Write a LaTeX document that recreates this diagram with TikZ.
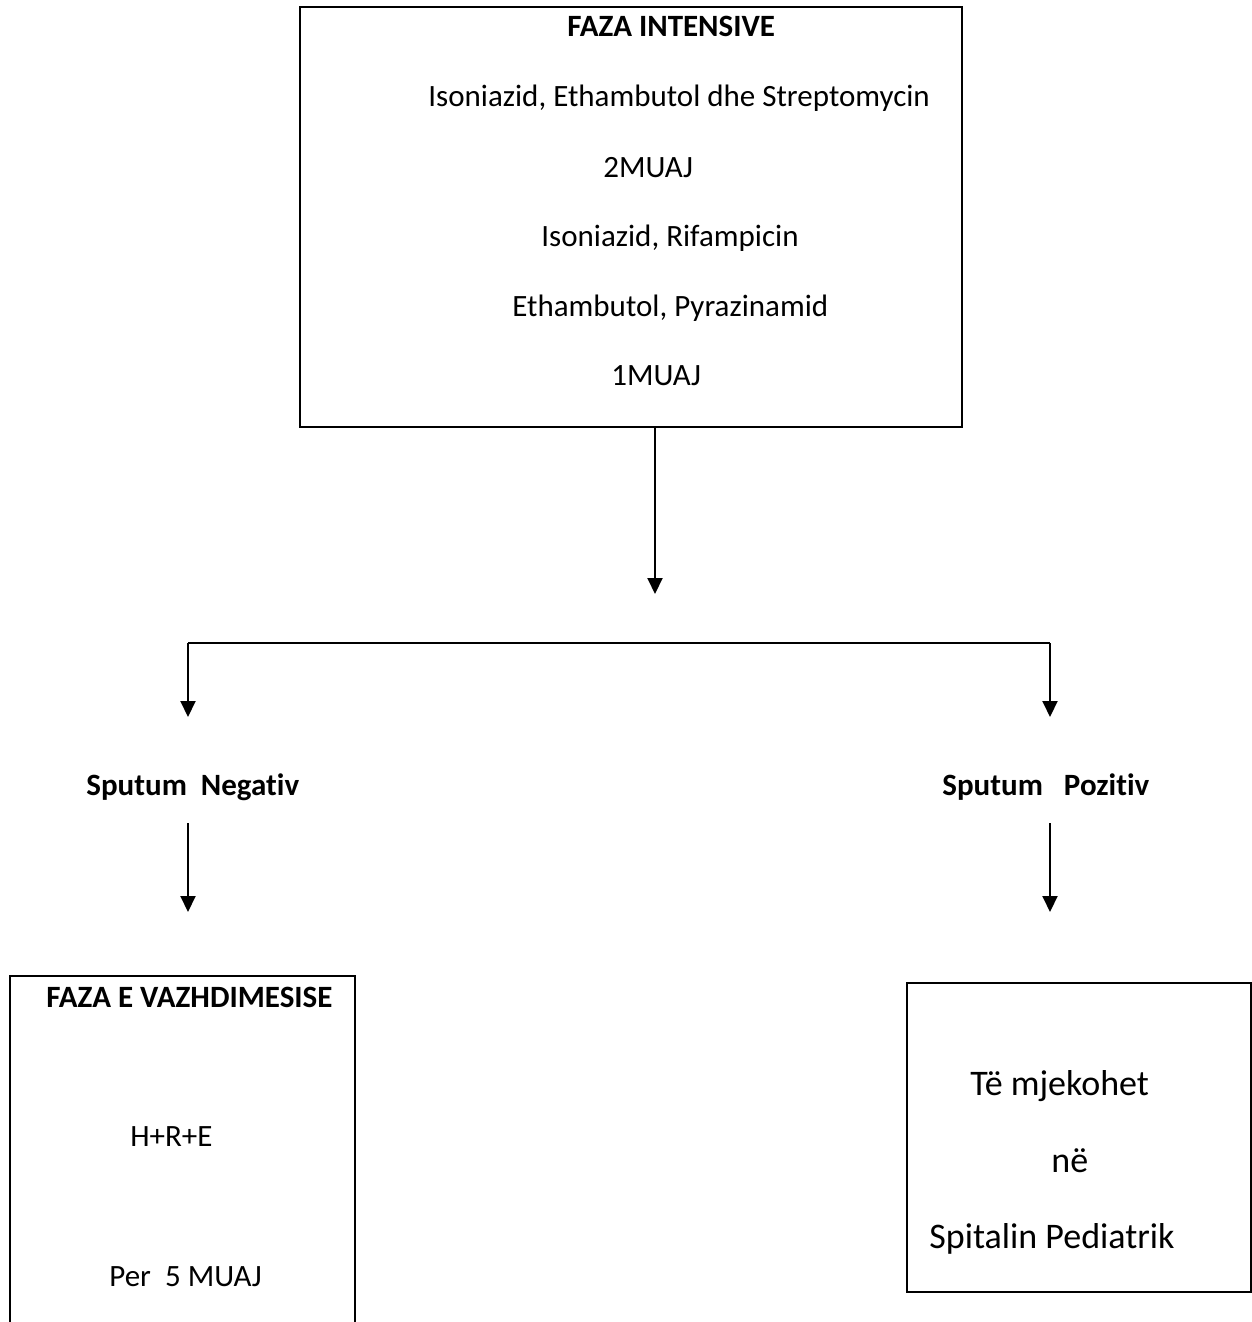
\documentclass[tikz,border=0pt]{standalone}
\usepackage{fontspec}
\setmainfont{Carlito}[Ligatures=NoCommon]
\usetikzlibrary{arrows.meta}
\begin{document}
\begin{tikzpicture}[x=0.5pt,y=-0.5pt,
  boxst/.style={draw, line width=1pt, inner sep=0pt, rectangle},
  txt/.style={inner sep=0pt, anchor=base west, font=\fontsize{15.5pt}{18pt}\selectfont},
  btxt/.style={inner sep=0pt, anchor=base west, font=\fontsize{15.5pt}{18pt}\selectfont\bfseries},
  bigtxt/.style={inner sep=0pt, anchor=base west, font=\fontsize{18pt}{21pt}\selectfont},
  conn/.style={line width=1pt, -{Triangle[width=7.5pt,length=8pt]}},
  hline/.style={line width=1.1pt}]
\clip (0,0) rectangle (1252,1322);
\fill[white] (0,0) rectangle (1252,1322);

% boxes
\node[boxst, minimum width=331pt, minimum height=210pt] (top) at (631,217) {};
\node[boxst, minimum width=172.5pt, minimum height=182pt] (cont) at (182.5,1158) {};
\node[boxst, minimum width=172pt, minimum height=154.5pt] (hosp) at (1079,1137.5) {};

% top box text
\node[btxt] (t0) at (567,37) {FAZA INTENSIVE};
\node[txt] (t1) at (428,107) {Isoniazid, Ethambutol dhe Streptomycin};
\node[txt] (t2) at (603,177) {2MUAJ};
\node[txt] (t3) at (541,246) {Isoniazid, Rifampicin};
\node[txt] (t4) at (512,316) {Ethambutol, Pyrazinamid};
\node[txt] (t5) at (611,385) {1MUAJ};

% branch labels
\node[btxt] (neg) at (86,795) {Sputum\ \ Negativ};
\node[btxt] (pos) at (942,795) {Sputum\ \ \ Pozitiv};

% left box text
\node[btxt] (c0) at (46,1007) {FAZA E VAZHDIMESISE};
\node[txt] (c1) at (130,1146) {H+R+E};
\node[txt] (c2) at (109,1286) {Per\ \ 5 MUAJ};

% right box text
\node[bigtxt] (h0) at (970,1095) {Të mjekohet};
\node[bigtxt] (h1) at (1051,1172) {në};
\node[bigtxt] (h2) at (929,1248) {Spitalin Pediatrik};

% connectors
\coordinate (split) at (655,594);
\coordinate (hl) at (188,643);
\coordinate (hr) at (1050,643);
\coordinate (al) at (188,717);
\coordinate (ar) at (1050,717);
\coordinate (nl) at (188,823);
\coordinate (nr) at (1050,823);
\coordinate (bl) at (188,912);
\coordinate (br) at (1050,912);

\draw[conn] (top.south -| split) -- (split);
\draw[hline] (hl) -- (hr);
\draw[conn] (hl) -- (al);
\draw[conn] (hr) -- (ar);
\draw[conn] (nl) -- (bl);
\draw[conn] (nr) -- (br);
\end{tikzpicture}
\end{document}
